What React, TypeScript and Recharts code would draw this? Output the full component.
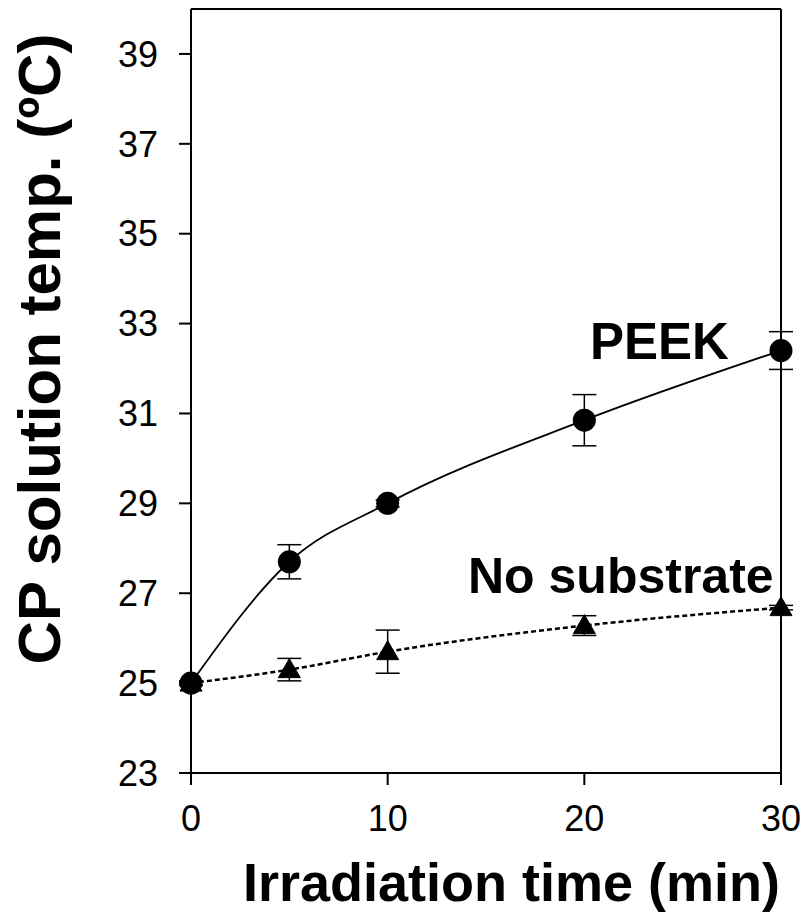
import React from 'react';
import { ComposedChart, Line, XAxis, YAxis, ErrorBar, ReferenceLine, Customized } from 'recharts';

const times = [0, 5, 10, 20, 30];
const peekTemp = [25.0, 27.7, 29.0, 30.85, 32.4];
const peekErr = [0.05, 0.38, 0.08, 0.57, 0.42];
const noSubTemp = [25.0, 25.3, 25.7, 26.28, 26.68];
const noSubErr = [0.05, 0.25, 0.48, 0.22, 0.05];
const xTicks = [0, 10, 20, 30];
const yTicks = [23, 25, 27, 29, 31, 33, 35, 37, 39];

const data = times.map((t, i) => ({
  t,
  peek: peekTemp[i],
  peekErr: peekErr[i],
  noSub: noSubTemp[i],
  noSubErr: noSubErr[i],
}));

const FONT = '"Liberation Sans", Arial, sans-serif';

const Triangle = (props: any) => {
  const { cx, cy, index } = props;
  if (cx == null || cy == null) return <g key={`tri-${index}`} />;
  return (
    <path
      key={`tri-${index}`}
      d={`M${cx},${cy - 11} L${cx + 11},${cy + 8} L${cx - 11},${cy + 8} Z`}
      fill="#000"
      stroke="#000"
      strokeWidth={1}
    />
  );
};

const Circle = (props: any) => {
  const { cx, cy, index } = props;
  if (cx == null || cy == null) return <g key={`cir-${index}`} />;
  return <circle key={`cir-${index}`} cx={cx} cy={cy} r={11.5} fill="#000" />;
};

const Labels = () => (
  <g fontFamily={FONT} fontWeight="bold" fill="#000">
    <text x={590} y={359} fontSize={51} fill="#000">PEEK</text>
    <text x={468} y={593} fontSize={50} fill="#000">No substrate</text>
    <text x={243} y={901} fontSize={54} fill="#000">Irradiation time (min)</text>
    <text
      x={60}
      y={349}
      fontSize={60}
      textAnchor="middle"
      transform="rotate(-90, 60, 349)"
      fill="#000"
    >
      CP solution temp. (ºC)
    </text>
  </g>
);

export default function App() {
  return (
    <div style={{ position: 'absolute', left: 0, top: 0, background: '#fff' }}>
      <ComposedChart
        width={806}
        height={915}
        data={data}
        margin={{ top: 9, right: 25, bottom: 0, left: 0 }}
      >
        <XAxis
          dataKey="t"
          type="number"
          domain={[0, 30]}
          ticks={xTicks}
          interval={0}
          height={142}
          tickSize={12}
          tickMargin={20}
          axisLine={{ stroke: '#000', strokeWidth: 2 }}
          tickLine={{ stroke: '#000', strokeWidth: 2 }}
          tick={{ fill: '#000', fontSize: 36, fontFamily: FONT }}
        />
        <YAxis
          type="number"
          domain={[23, 40]}
          ticks={yTicks}
          interval={0}
          width={191}
          tickSize={12}
          tickMargin={21}
          allowDataOverflow
          axisLine={{ stroke: '#000', strokeWidth: 2 }}
          tickLine={{ stroke: '#000', strokeWidth: 2 }}
          tick={{ fill: '#000', fontSize: 36, fontFamily: FONT }}
        />
        <ReferenceLine y={40} stroke="#000" strokeWidth={2} />
        <ReferenceLine x={30} stroke="#000" strokeWidth={2} />
        <Line
          dataKey="noSub"
          type="monotone"
          stroke="#000"
          strokeWidth={2.5}
          strokeDasharray="5 3"
          dot={Triangle}
          activeDot={false}
          isAnimationActive={false}
        >
          <ErrorBar dataKey="noSubErr" width={12} stroke="#000" strokeWidth={1.5} />
        </Line>
        <Line
          dataKey="peek"
          type="monotone"
          stroke="#000"
          strokeWidth={1.8}
          dot={Circle}
          activeDot={false}
          isAnimationActive={false}
        >
          <ErrorBar dataKey="peekErr" width={12} stroke="#000" strokeWidth={1.5} />
        </Line>
        <Customized component={Labels} />
      </ComposedChart>
    </div>
  );
}
